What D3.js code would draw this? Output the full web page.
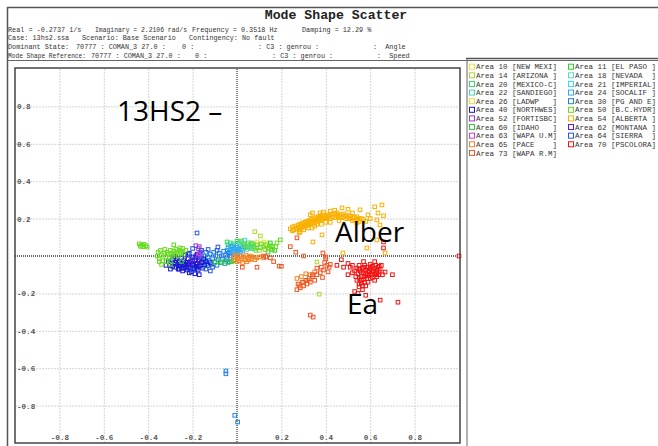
<!DOCTYPE html>
<html>
<head>
<meta charset="utf-8">
<script src="https://cdn.jsdelivr.net/npm/d3@7"></script>
<style>
  html, body { margin: 0; padding: 0; background: #fff; }
  svg { display: block; }
  .mono { font-family: "Liberation Mono", "DejaVu Sans Mono", monospace; }
</style>
</head>
<body>
<svg id="chart" width="658" height="446"></svg>
<script>
// ---- Header text ----
const title = "Mode Shape Scatter";
const headerLines = [
  [["Real = -0.2737 1/s", 8], ["Imaginary = 2.2106 rad/s", 95], ["Frequency = 0.3518 Hz", 192], ["Damping = 12.29 %", 302]],
  [["Case: 13hs2.ssa", 8], ["Scenario: Base Scenario", 82], ["Contingency: No fault", 189]],
  [["Dominant State:", 8], ["70777 : COMAN_3 27.0 :", 76], ["0 :", 182], [": C3 : genrou :", 258], [":  Angle", 373]],
  [["Mode Shape Reference:", 8], ["70777 : COMAN_3 27.0 :", 91], ["0 :", 195], [": C3 : genrou :", 272], [":  Speed", 377]]
];

// ---- Axis ticks ----
const xTicks = [-0.8, -0.6, -0.4, -0.2, 0.2, 0.4, 0.6, 0.8];
const yTicks = [-0.8, -0.6, -0.4, -0.2, 0.2, 0.4, 0.6, 0.8];

// ---- Areas (legend order) ----
const areaNames = [
  "Area 10 [NEW MEXI]", "Area 11 [EL PASO ]", "Area 14 [ARIZONA ]", "Area 18 [NEVADA  ]",
  "Area 20 [MEXICO-C]", "Area 21 [IMPERIAL]", "Area 22 [SANDIEGO]", "Area 24 [SOCALIF ]",
  "Area 26 [LADWP   ]", "Area 30 [PG AND E]", "Area 40 [NORTHWES]", "Area 50 [B.C.HYDR]",
  "Area 52 [FORTISBC]", "Area 54 [ALBERTA ]", "Area 60 [IDAHO   ]", "Area 62 [MONTANA ]",
  "Area 63 [WAPA U.M]", "Area 64 [SIERRA  ]", "Area 65 [PACE    ]", "Area 70 [PSCOLORA]",
  "Area 73 [WAPA R.M]"
];
const areaColors = [
  "#e2e63c", "#2ecc2e", "#a8dc30", "#55dec8",
  "#30d868", "#35dcee", "#40dcb4", "#30a8f0",
  "#f2dc30", "#2080e8", "#1818d0", "#66dc1e",
  "#9a38dc", "#f8b000", "#30cc38", "#5a18d8",
  "#cc3ce0", "#2458e0", "#f48424", "#f01414",
  "#f05424"
];

// ---- Mode shape points per area: [real, imaginary] ----
const area10 = [[0.12,0.075],[0.135,0.07]];
const area11 = [[0.15,0.07],[0.16,0.05],[0.17,0.03],[0.14,0.02],[0.155,0.035]];
const area14 = [[0.08,0.13],[0.105,0.107],[0.06,0.06],[0.09,0.045],[0.12,0.05],[0.14,0.04],[0.1,0.03],[0.36,-0.032],[0.37,-0.204]];
const area18 = [[0.055,0.05],[0.07,0.055],[0.08,0.04]];
const area20 = [[-0.045,0.075],[-0.03,0.07],[-0.015,0.065],[0.0,0.08],[-0.04,0.06],[0.01,0.07]];
const area21 = [[0.01,0.06],[0.02,0.075],[0.03,0.065],[0.04,0.05],[0.05,0.06],[0.035,0.085],[0.06,0.045],[0.045,0.035],[0.015,0.05]];
const area22 = [[0.065,0.07],[0.075,0.05]];
const area24 = [[-0.045,0.03],[-0.04,0.045],[-0.035,0.02],[-0.03,0.035],[-0.025,0.05],[-0.02,0.025],[-0.015,0.04],[-0.01,0.02],[-0.005,0.03],[0.0,0.045],[0.005,0.025],[0.01,0.035],[0.015,0.02],[0.02,0.04],[0.025,0.03],[-0.03,0.015],[0.0,0.015],[-0.02,0.055],[0.03,0.05]];
const area26 = [[0.09,0.075]];
const area30 = [[-0.19,-0.01],[-0.185,-0.04],[-0.18,0.005],[-0.175,-0.025],[-0.17,-0.05],[-0.165,0.015],[-0.16,-0.01],[-0.155,-0.035],[-0.15,0.0],[-0.15,-0.055],[-0.145,-0.02],[-0.14,0.02],[-0.135,-0.04],[-0.13,-0.005],[-0.125,-0.025],[-0.12,0.01],[-0.115,-0.045],[-0.11,-0.015],[-0.105,0.02],[-0.1,-0.03],[-0.095,0.0],[-0.09,-0.05],[-0.085,-0.02],[-0.08,0.015],[-0.075,-0.035],[-0.07,0.0],[-0.065,-0.015],[-0.06,0.025],[-0.055,-0.04],[-0.05,0.005],[-0.045,-0.02],[-0.04,0.015],[-0.035,-0.03],[-0.03,0.0],[-0.05,-0.615],[-0.05,-0.63],[-0.01,-0.852],[0.003,-0.888]];
const area40 = [[-0.31,-0.03],[-0.3,-0.045],[-0.29,-0.02],[-0.29,-0.055],[-0.28,-0.035],[-0.28,-0.06],[-0.27,-0.015],[-0.27,-0.045],[-0.265,-0.07],[-0.26,-0.03],[-0.26,-0.055],[-0.25,-0.01],[-0.25,-0.04],[-0.25,-0.065],[-0.245,-0.08],[-0.24,-0.025],[-0.24,-0.05],[-0.235,0.005],[-0.23,-0.035],[-0.23,-0.06],[-0.225,-0.075],[-0.22,-0.015],[-0.22,-0.045],[-0.215,0.015],[-0.21,-0.03],[-0.21,-0.06],[-0.205,-0.085],[-0.2,-0.005],[-0.2,-0.045],[-0.195,-0.07],[-0.19,-0.025],[-0.185,-0.055],[-0.18,0.01],[-0.18,-0.04],[-0.175,-0.075],[-0.17,-0.02],[-0.165,-0.05],[-0.16,-0.035],[-0.155,-0.065],[-0.15,-0.015],[-0.145,-0.045],[-0.14,-0.03],[-0.13,-0.05],[-0.12,-0.035],[-0.3,-0.07],[-0.285,0.0],[-0.32,-0.05],[-0.19,-0.095],[-0.17,-0.1],[-0.215,-0.09],
  [-0.275,-0.025],[-0.255,-0.05],[-0.235,-0.045],[-0.215,-0.035],[-0.195,-0.05],[-0.175,-0.055],[-0.26,-0.07],[-0.24,-0.065],[-0.22,-0.065],[-0.2,-0.065],[-0.18,-0.065]];
const area50 = [[-0.44,0.065],[-0.43,0.058],[-0.42,0.062],[-0.41,0.055],[-0.425,0.05],[-0.405,0.048],[-0.435,0.052],
  [-0.36,0.0],[-0.355,0.02],[-0.35,-0.015],[-0.345,0.03],[-0.34,0.005],[-0.335,-0.025],[-0.33,0.015],[-0.325,0.035],[-0.32,-0.005],[-0.315,0.02],[-0.31,0.01],[-0.305,-0.01],[-0.3,0.03],[-0.295,0.015],[-0.29,0.0],[-0.285,0.025],[-0.28,0.01],[-0.275,0.035],[-0.27,0.02],[-0.265,0.0],[-0.26,0.03],[-0.255,0.015],[-0.25,0.025],[-0.245,0.04],[-0.24,0.01],[-0.23,0.03],[-0.35,-0.03],[-0.34,-0.045],[-0.32,-0.03],[-0.3,-0.045],[-0.285,0.06],[-0.257,0.043],
  [0.03,0.06],[0.05,0.07],[0.07,0.065],[0.09,0.06],[0.11,0.065],[0.13,0.06],[0.15,0.055],[0.04,0.045],[0.065,0.04],[0.085,0.03],[0.105,0.045],[0.125,0.035],[0.145,0.045],[0.16,0.035],[0.175,0.05],[0.18,0.07],[0.195,0.086],[0.02,0.08]];
const area52 = [[-0.185,0.055],[-0.175,0.04],[-0.17,0.05],[-0.165,0.02],[-0.17,0.005],[-0.16,0.03]];
const area54 = [[0.24,0.145],[0.25,0.155],[0.255,0.14],[0.26,0.16],[0.27,0.15],[0.275,0.165],[0.28,0.155],[0.285,0.17],[0.29,0.16],[0.295,0.175],[0.3,0.165],[0.305,0.18],[0.31,0.17],[0.315,0.185],[0.32,0.175],[0.325,0.19],[0.33,0.18],[0.335,0.195],[0.34,0.185],[0.345,0.2],[0.35,0.19],[0.355,0.205],[0.36,0.195],[0.365,0.21],[0.37,0.2],[0.375,0.215],[0.38,0.205],[0.385,0.22],[0.39,0.21],[0.395,0.2],[0.4,0.215],[0.41,0.205],[0.42,0.22],[0.43,0.21],[0.44,0.225],[0.45,0.215],[0.46,0.205],[0.47,0.22],[0.48,0.21],[0.49,0.2],[0.5,0.215],[0.51,0.2],[0.52,0.19],[0.53,0.205],[0.54,0.195],[0.55,0.185],[0.56,0.2],[0.3,0.14],[0.32,0.15],[0.35,0.16],[0.38,0.17],[0.42,0.18],[0.34,0.23],[0.33,0.22],[0.374,0.23],[0.39,0.235],[0.42,0.24],[0.28,0.125],
  [0.25,0.135],[0.265,0.145],[0.28,0.14],[0.29,0.15],[0.3,0.155],[0.31,0.16],[0.32,0.165],[0.33,0.17],[0.34,0.175],[0.35,0.18],[0.36,0.185],[0.37,0.19],[0.38,0.195],[0.39,0.2],[0.4,0.205],[0.41,0.22],[0.42,0.2],[0.43,0.225],[0.44,0.205],[0.45,0.23],[0.46,0.22],[0.47,0.205],[0.48,0.225],[0.49,0.215],[0.5,0.2],[0.51,0.215],[0.52,0.205],[0.53,0.19],[0.54,0.21],[0.55,0.2],[0.57,0.195],[0.58,0.185],[0.36,0.17],[0.4,0.18],[0.46,0.19],
  [0.473,0.257],[0.653,0.273],[0.62,0.263],[0.635,0.23],[0.554,0.247],[0.59,0.22],[0.63,0.193],[0.644,0.166],[0.284,0.129],[0.342,0.075],[0.383,0.113],[0.338,0.15],[0.54,0.177],[0.585,0.043],[0.63,0.086],[0.477,0.016],[0.667,0.016],[0.6,0.2],[0.66,0.215],[0.44,0.245],[0.5,0.25],[0.52,0.23]];
const area60 = [[-0.085,-0.03],[-0.07,-0.035],[-0.055,-0.028],[-0.04,-0.035],[-0.025,-0.03],[-0.015,-0.025],[-0.1,-0.035],[-0.3,-0.025],[-0.25,-0.03]];
const area62 = [[-0.2,-0.02],[-0.185,0.0],[-0.21,-0.04],[-0.17,-0.03]];
const area63 = [[-0.17,0.012]];
const area64 = [[-0.18,0.123],[-0.086,0.048],[-0.22,0.01],[-0.16,0.03],[-0.13,0.035],[-0.11,-0.06],[-0.09,0.03],[-0.2,-0.075],[-0.14,-0.07],[-0.12,-0.08],[-0.2,0.04]];
const area65 = [[-0.015,-0.005],[-0.01,-0.02],[-0.005,0.005],[0.0,-0.03],[0.005,-0.01],[0.01,-0.025],[0.015,0.0],[0.02,-0.015],[0.025,-0.035],[0.03,-0.005],[0.035,-0.02],[0.04,0.005],[0.045,-0.03],[0.05,-0.01],[0.055,-0.02],[0.06,0.0],[0.065,-0.015],[0.07,-0.005],[0.08,-0.02],[0.09,-0.01],[0.1,-0.005],[0.12,-0.01],[0.27,-0.12],[0.29,-0.11],[0.31,-0.095],[0.3,-0.14],[0.33,-0.1],[0.35,-0.085],[0.28,-0.16],[0.32,-0.13]];
const area70 = [[0.5,-0.04],[0.51,-0.06],[0.52,-0.05],[0.53,-0.08],[0.54,-0.065],[0.545,-0.095],[0.55,-0.05],[0.555,-0.08],[0.56,-0.11],[0.565,-0.065],[0.57,-0.09],[0.575,-0.05],[0.58,-0.075],[0.585,-0.1],[0.59,-0.06],[0.595,-0.085],[0.6,-0.07],[0.605,-0.095],[0.61,-0.055],[0.615,-0.08],[0.62,-0.065],[0.625,-0.09],[0.63,-0.075],[0.635,-0.06],[0.64,-0.085],[0.645,-0.07],[0.65,-0.05],[0.57,-0.03],[0.62,-0.03],[0.6,-0.045],[0.54,-0.13],[0.56,-0.145],[0.57,-0.125],[0.55,-0.165],[0.565,-0.18],[0.58,-0.16],[0.53,-0.19],[0.545,-0.2],[0.58,-0.21],[0.6,-0.12],[0.59,-0.14],[0.7,-0.1],[0.667,-0.086],[0.645,-0.236],[0.725,-0.247],[1.0,0.0],[0.66,0.075],[0.66,0.043],[0.47,-0.02],[0.48,-0.06],[0.45,-0.05],[0.62,-0.13],[0.63,-0.11],[0.655,-0.1],[0.5,-0.1],
  [0.55,-0.07],[0.56,-0.09],[0.57,-0.06],[0.575,-0.11],[0.58,-0.095],[0.59,-0.08],[0.595,-0.105],[0.6,-0.06],[0.61,-0.085],[0.61,-0.115],[0.62,-0.1],[0.625,-0.05],[0.63,-0.095],[0.64,-0.055],[0.64,-0.1],[0.55,-0.12],[0.56,-0.13],[0.575,-0.14],[0.55,-0.15],[0.565,-0.16],[0.535,-0.11],[0.52,-0.09],[0.585,-0.12]];
const area73 = [[0.024,-0.06],[0.09,-0.06],[0.15,-0.01],[0.13,-0.005],[0.165,-0.03],[0.2,-0.055],[0.12,0.0],
  [0.27,-0.18],[0.275,-0.15],[0.285,-0.17],[0.295,-0.14],[0.3,-0.16],[0.31,-0.13],[0.315,-0.15],[0.325,-0.12],[0.33,-0.14],[0.34,-0.11],[0.35,-0.13],[0.36,-0.1],[0.375,-0.09],[0.385,-0.115],[0.39,-0.075],[0.41,-0.085],[0.405,-0.05],[0.415,-0.06],[0.395,-0.035],[0.4,-0.015],[0.42,-0.045],[0.38,-0.06],[0.33,-0.316],[0.343,-0.327],[0.34,-0.1],[0.36,-0.065],
  [0.27,0.097],[0.24,0.05],[0.265,0.02],[0.3,0.0],[0.387,0.016],[0.4,-0.005],[0.19,-0.054]];

const areaPoints = [area10, area11, area14, area18, area20, area21, area22, area24, area26, area30,
  area40, area50, area52, area54, area60, area62, area63, area64, area65, area70, area73];

// ---- Overlay captions ----
const captions = [["13HS2 \u2013", 117, 121], ["Alber", 335, 242], ["Ea", 347, 314]];

// ================= drawing =================
const svg = d3.select("#chart");
const plot = { left: 15, right: 459, top: 69, bottom: 443 };
const x = d3.scaleLinear().domain([-1, 1]).range([plot.left, plot.right]);
const y = d3.scaleLinear().domain([-1, 1]).range([plot.bottom, plot.top]);

// frame lines
svg.append("line").attr("x1", 7).attr("x2", 658).attr("y1", 7.5).attr("y2", 7.5).attr("stroke", "#555").attr("stroke-width", 1.5);
svg.append("line").attr("x1", 7.5).attr("x2", 7.5).attr("y1", 7).attr("y2", 446).attr("stroke", "#555").attr("stroke-width", 1.5);
svg.append("line").attr("x1", 7).attr("x2", 658).attr("y1", 60.5).attr("y2", 60.5).attr("stroke", "#666").attr("stroke-width", 1);

// title + header
svg.append("text").attr("class", "mono").attr("x", 336).attr("y", 18.5)
  .attr("text-anchor", "middle").attr("font-size", 13.2).attr("font-weight", "bold").attr("fill", "#222").text(title);
const hdrBase = [31.5, 40.3, 49.2, 58];
headerLines.forEach((line, i) => {
  line.forEach(([t, xp], j) => {
    const el = svg.append("text").attr("class", "mono").attr("x", xp).attr("y", hdrBase[i])
      .attr("font-size", 6.8).attr("fill", "#333").attr("xml:space", "preserve").text(t);
    // squeeze a segment if it would run into the next one on the same line
    if (j < line.length - 1) {
      const room = line[j + 1][1] - xp - 5;
      if (el.node().getComputedTextLength() > room) {
        el.attr("textLength", room).attr("lengthAdjust", "spacingAndGlyphs");
      }
    }
  });
});

// legend panel
svg.append("line").attr("x1", 466).attr("x2", 658).attr("y1", 58.5).attr("y2", 58.5).attr("stroke", "#555").attr("stroke-width", 1.5);
svg.append("line").attr("x1", 467).attr("x2", 467).attr("y1", 58).attr("y2", 446).attr("stroke", "#666").attr("stroke-width", 1);

// grid via axes
const gridX = d3.axisBottom(x).tickValues(xTicks).tickSize(-(plot.bottom - plot.top)).tickFormat("");
const gridY = d3.axisLeft(y).tickValues(yTicks).tickSize(-(plot.right - plot.left)).tickFormat("");
const gx = svg.append("g").attr("transform", `translate(0,${plot.bottom})`).call(gridX);
const gy = svg.append("g").attr("transform", `translate(${plot.left},0)`).call(gridY);
[gx, gy].forEach(g => {
  g.select(".domain").remove();
  g.selectAll(".tick line").attr("stroke", "#d4d4d4").attr("stroke-dasharray", "2,1");
});

// zero axes (dotted)
svg.append("line").attr("x1", x(0)).attr("x2", x(0)).attr("y1", plot.top).attr("y2", plot.bottom)
  .attr("stroke", "#333").attr("stroke-width", 1.2).attr("stroke-dasharray", "1,1");
svg.append("line").attr("x1", plot.left).attr("x2", plot.right).attr("y1", y(0)).attr("y2", y(0))
  .attr("stroke", "#333").attr("stroke-width", 1.5).attr("stroke-dasharray", "1,1");

// tick labels
const fmt = d => d.toFixed(1);
const lx = svg.append("g").attr("transform", `translate(0,${plot.bottom})`)
  .call(d3.axisTop(x).tickValues(xTicks).tickSize(0).tickPadding(3).tickFormat(fmt));
const ly = svg.append("g").attr("transform", `translate(${plot.left},0)`)
  .call(d3.axisRight(y).tickValues(yTicks).tickSize(0).tickPadding(2).tickFormat(fmt));
[lx, ly].forEach(g => {
  g.select(".domain").remove();
  g.selectAll("text").attr("font-family", "'Liberation Mono', monospace").attr("font-size", 7.6)
    .attr("font-weight", "bold").attr("fill", "#555");
});

// points
const marks = svg.append("g");
areaPoints.forEach((pts, i) => {
  marks.append("g").selectAll("rect").data(pts).join("rect")
    .attr("x", d => x(d[0]) - 1.8).attr("y", d => y(d[1]) - 1.8)
    .attr("width", 3.6).attr("height", 3.6)
    .attr("fill", "none").attr("stroke", areaColors[i]).attr("stroke-width", 1);
});

// plot border
svg.append("rect").attr("x", plot.left).attr("y", plot.top - 1).attr("width", plot.right - plot.left + 1).attr("height", plot.bottom - plot.top + 1)
  .attr("fill", "none").attr("stroke", "#444").attr("stroke-width", 1.5);

// legend entries
const legend = svg.append("g");
areaNames.forEach((name, i) => {
  const col = i % 2, row = Math.floor(i / 2);
  const lx0 = col === 0 ? 469.5 : 568.5;
  const ly0 = 66.7 + row * 8.62;
  legend.append("rect").attr("x", lx0).attr("y", ly0 - 2.5).attr("width", 5).attr("height", 5)
    .attr("fill", "none").attr("stroke", areaColors[i]).attr("stroke-width", 1);
  legend.append("text").attr("class", "mono").attr("x", lx0 + 6.5).attr("y", ly0 + 2.6)
    .attr("font-size", 7.5).attr("fill", "#333").attr("xml:space", "preserve").text(name);
});

// overlay captions
captions.forEach(([t, xp, yp]) => {
  svg.append("text").attr("x", xp).attr("y", yp)
    .attr("font-family", "'Open Sans', sans-serif").attr("font-size", 28).attr("fill", "#000").text(t);
});
</script>
</body>
</html>
